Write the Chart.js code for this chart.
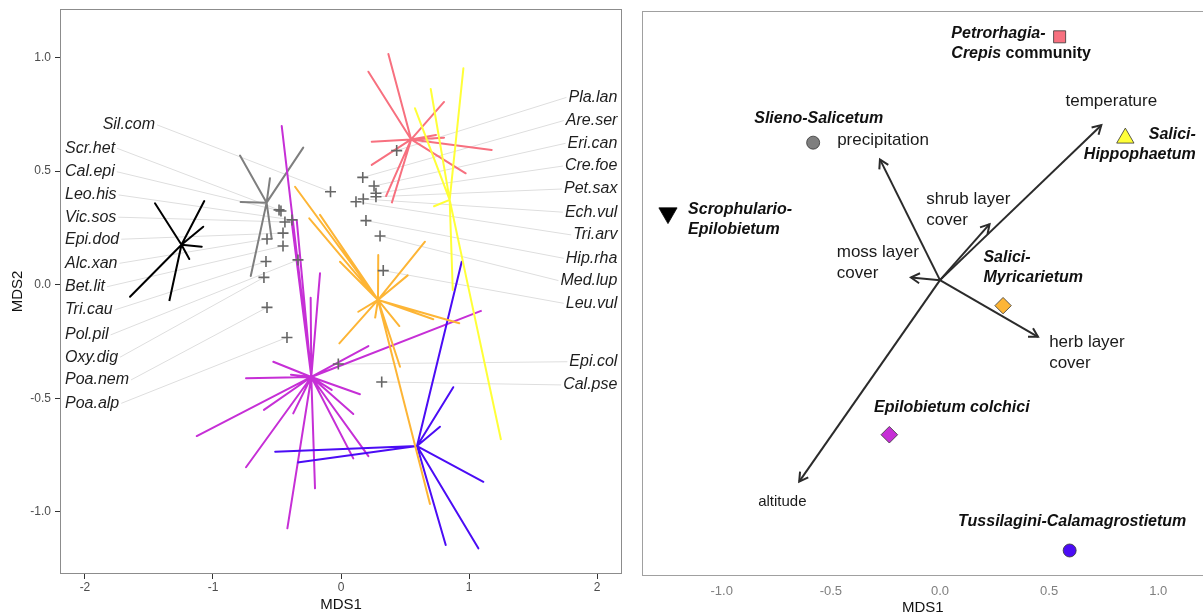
<!DOCTYPE html>
<html><head><meta charset="utf-8">
<script src="https://cdn.jsdelivr.net/npm/chart.js@4.4.1/dist/chart.umd.min.js"></script>
<style>
html,body{margin:0;padding:0;background:#fff;overflow:hidden;width:1203px;height:616px;position:relative}
#l{position:absolute;left:0;top:0;width:630px;height:616px}
#r{position:absolute;left:630px;top:0;width:585px;height:616px}
canvas{display:block}
</style></head><body>
<div id="l"><canvas id="cl" width="630" height="616"></canvas></div>
<div id="r"><canvas id="cr" width="585" height="616"></canvas></div>
<script>
const FAM = '"Liberation Sans", Arial, Helvetica, sans-serif';

// ---------- groups (centroids shared by both panels) ----------
const groupNames = ['Scrophulario-Epilobietum','Slieno-Salicetum','Petrorhagia-Crepis community','Salici-Hippophaetum','Salici-Myricarietum','Epilobietum colchici','Tussilagini-Calamagrostietum'];
const groupColors = ['#000000','#7f7f7f','#f7707f','#ffff38','#fdb536','#c62fd6','#4b0cf5'];
const centroidX = [-1.246,-0.581,0.548,0.849,0.289,-0.232,0.594];
const centroidY = [0.176,0.361,0.639,0.373,-0.067,-0.406,-0.710];

// ---------- site scores per group (left panel spiders) ----------
const sitesX_Scro = [-1.453,-1.068,-1.076,-1.088,-1.185,-1.648,-1.341];
const sitesY_Scro = [0.358,0.368,0.255,0.167,0.113,-0.053,-0.072];
const sitesX_Slie = [-0.789,-0.295,-0.555,-0.784,-0.705,-0.541];
const sitesY_Slie = [0.568,0.603,0.468,0.364,0.038,0.200];
const sitesX_Petr = [0.370,0.214,0.805,0.805,0.742,0.240,1.177,0.974,0.240,0.352,0.396];
const sitesY_Petr = [1.015,0.937,0.804,0.647,0.659,0.629,0.593,0.490,0.527,0.390,0.358];
const sitesX_Hipp = [0.956,0.701,0.578,0.727,0.873,1.250];
const sitesY_Hipp = [0.952,0.861,0.776,0.345,-0.023,-0.683];
const sitesX_Myri = [-0.359,-0.248,-0.164,-0.008,0.656,0.521,0.291,0.135,-0.013,0.456,0.924,0.721,0.461,0.695,0.266];
const sitesY_Myri = [0.431,0.292,0.307,0.101,0.189,0.041,0.131,-0.119,-0.258,-0.182,-0.170,-0.152,-0.361,-0.965,-0.148];
const sitesX_Epil = [-0.463,-0.346,-0.385,-0.164,-0.237,-0.529,-0.742,-0.391,-1.127,-0.602,-0.742,-0.373,-0.419,-0.203,0.096,0.214,0.096,0.148,-0.073,0.214,1.099];
const sitesY_Epil = [0.698,0.285,0.276,0.050,-0.057,-0.339,-0.412,-0.396,-0.666,-0.551,-0.803,-0.566,-1.072,-0.896,-0.764,-0.754,-0.569,-0.482,-0.463,-0.270,-0.114];
const sitesX_Tuss = [0.943,0.877,0.773,1.112,1.073,0.818,-0.514,-0.341];
const sitesY_Tuss = [0.101,-0.451,-0.625,-0.867,-1.160,-1.145,-0.735,-0.782];

// ---------- species scores (left panel crosses) ----------
const leftSpeciesNames = ['Sil.com','Scr.het','Cal.epi','Leo.his','Vic.sos','Epi.dod','Alc.xan','Bet.lit','Tri.cau','Pol.pil','Oxy.dig','Poa.nem','Poa.alp'];
const leftSpeciesX = [-0.082,-0.484,-0.469,-0.383,-0.438,-0.453,-0.578,-0.453,-0.586,-0.336,-0.602,-0.578,-0.422];
const leftSpeciesY = [0.409,0.329,0.324,0.285,0.276,0.227,0.201,0.170,0.102,0.109,0.032,-0.100,-0.232];
const leftLabelX = [-1.862,-2.156,-2.156,-2.156,-2.156,-2.156,-2.156,-2.156,-2.156,-2.156,-2.156,-2.156,-2.156];
const leftLabelY = [0.703,0.600,0.497,0.395,0.297,0.200,0.094,-0.009,-0.111,-0.221,-0.319,-0.419,-0.522];

const rightSpeciesNames = ['Pla.lan','Are.ser','Eri.can','Cre.foe','Pet.sax','Ech.vul','Tri.arv','Hip.rha','Med.lup','Leu.vul','Epi.col','Cal.pse'];
const rightSpeciesX = [0.435,0.170,0.258,0.273,0.273,0.174,0.117,0.195,0.305,0.330,-0.021,0.318];
const rightSpeciesY = [0.590,0.472,0.434,0.402,0.387,0.377,0.365,0.282,0.214,0.062,-0.349,-0.428];
const rightLabelX = 2.159;
const rightLabelY = [0.824,0.722,0.622,0.522,0.421,0.319,0.219,0.116,0.018,-0.082,-0.339,-0.441];

// ---------- axes ----------
const leftXTicks = [-2,-1,0,1,2];
const leftXTickLabels = ['-2','-1','0','1','2'];
const leftYTicks = [-1,-0.5,0,0.5,1];
const leftYTickLabels = ['-1.0','-0.5','0.0','0.5','1.0'];
const rightXTicks = [-1,-0.5,0,0.5,1];
const rightXTickLabels = ['-1.0','-0.5','0.0','0.5','1.0'];

// ---------- environmental vectors (right panel) ----------
const envNames = [['temperature'],['precipitation'],['shrub layer','cover'],['moss layer','cover'],['herb layer','cover'],['altitude']];
const envX = [0.739,-0.275,0.227,-0.133,0.449,-0.645];
const envY = [0.407,0.317,0.147,0.007,-0.149,-0.529];
const envLabelX = [0.575,-0.471,-0.063,-0.473,0.500,-0.833];
const envLabelY = [0.470,0.367,0.213,0.074,-0.162,-0.582];

// ---------- group labels (right panel) ----------
const groupLabelLines = [['Scrophulario-','Epilobietum'],['Slieno-Salicetum'],['Petrorhagia-','Crepis community'],['Salici-','Hippophaetum'],['Salici-','Myricarietum'],['Epilobietum colchici'],['Tussilagini-Calamagrostietum']];
const groupLabelX = [-1.154,-0.851,0.052,1.172,0.199,-0.302,0.083];
const groupLabelY = [0.184,0.423,0.648,0.381,0.058,-0.335,-0.635];
const groupLabelAlign = ['left','left','left','right','left','left','left'];

const sitesAll = [[sitesX_Scro,sitesY_Scro],[sitesX_Slie,sitesY_Slie],[sitesX_Petr,sitesY_Petr],[sitesX_Hipp,sitesY_Hipp],[sitesX_Myri,sitesY_Myri],[sitesX_Epil,sitesY_Epil],[sitesX_Tuss,sitesY_Tuss]];
const spiderOrder = [10,9,8,4,5,7,6];

function spider(cx, cy, xs, ys){
  const d=[];
  xs.forEach((v,i)=>{ d.push({x:cx,y:cy}); d.push({x:v,y:ys[i]}); });
  return d;
}

Chart.defaults.font.family = FAM;
Chart.defaults.animation = false;

const leftDatasets = groupNames.map((g,i)=>({
  label:g, data: spider(centroidX[i], centroidY[i], sitesAll[i][0], sitesAll[i][1]),
  showLine:true, borderColor:groupColors[i], borderWidth:2, pointRadius:0, pointHoverRadius:0,
  borderJoinStyle:'round', borderCapStyle:'butt', tension:0, fill:false, order:spiderOrder[i]
}));
leftDatasets.push({
  label:'species',
  data: leftSpeciesX.map((v,i)=>({x:v,y:leftSpeciesY[i]})).concat(rightSpeciesX.map((v,i)=>({x:v,y:rightSpeciesY[i]}))),
  pointStyle:'cross', pointRadius:5.5, pointBorderColor:'#666666', pointBorderWidth:1.6, showLine:false, order:1
});

function boxPlugin(id, color){
  return {id, afterDraw(chart){
    const a = chart.chartArea, ctx = chart.ctx;
    ctx.save(); ctx.strokeStyle=color; ctx.lineWidth=1;
    ctx.strokeRect(Math.round(a.left)+0.5, Math.round(a.top)+0.5, Math.round(a.right-a.left)-1, Math.round(a.bottom-a.top)-1);
    ctx.restore();
  }};
}

const leftDeco = {
  id:'leftDeco',
  beforeDatasetsDraw(chart){
    const {ctx, scales:{x,y}} = chart;
    ctx.save();
    ctx.font = 'italic 16px ' + FAM;
    ctx.strokeStyle = '#dedede'; ctx.lineWidth = 1;
    leftSpeciesNames.forEach((n,i)=>{
      const lx = x.getPixelForValue(leftLabelX[i]) + ctx.measureText(n).width + 2;
      const ly = y.getPixelForValue(leftLabelY[i]);
      ctx.beginPath(); ctx.moveTo(lx,ly);
      ctx.lineTo(x.getPixelForValue(leftSpeciesX[i]), y.getPixelForValue(leftSpeciesY[i])); ctx.stroke();
    });
    rightSpeciesNames.forEach((n,i)=>{
      const lx = x.getPixelForValue(rightLabelX) - ctx.measureText(n).width - 2;
      const ly = y.getPixelForValue(rightLabelY[i]);
      ctx.beginPath(); ctx.moveTo(lx,ly);
      ctx.lineTo(x.getPixelForValue(rightSpeciesX[i]), y.getPixelForValue(rightSpeciesY[i])); ctx.stroke();
    });
    ctx.restore();
  },
  afterDatasetsDraw(chart){
    const {ctx, scales:{x,y}, chartArea:a} = chart;
    ctx.save();
    ctx.font = 'italic 16px ' + FAM;
    ctx.fillStyle = '#1e1e1e'; ctx.textBaseline='middle';
    ctx.textAlign='left';
    leftSpeciesNames.forEach((n,i)=>ctx.fillText(n, x.getPixelForValue(leftLabelX[i]), y.getPixelForValue(leftLabelY[i])));
    ctx.textAlign='right';
    rightSpeciesNames.forEach((n,i)=>ctx.fillText(n, x.getPixelForValue(rightLabelX), y.getPixelForValue(rightLabelY[i])));
    // axis titles
    ctx.font = '15px ' + FAM; ctx.fillStyle='#111'; ctx.textAlign='center';
    ctx.fillText('MDS1', (a.left+a.right)/2, 605);
    ctx.translate(18, (a.top+a.bottom)/2); ctx.rotate(-Math.PI/2);
    ctx.fillText('MDS2', 0, 0);
    ctx.restore();
  }
};

new Chart(document.getElementById('cl'), {
  type:'scatter',
  data:{datasets:leftDatasets},
  options:{
    responsive:false, devicePixelRatio:1, animation:false,
    layout:{padding:{top:9,right:8,left:0,bottom:0}},
    plugins:{legend:{display:false}, tooltip:{enabled:false}},
    scales:{
      x:{type:'linear', min:-2.195, max:2.195,
        afterBuildTicks:s=>{s.ticks = leftXTicks.map(v=>({value:v}));},
        afterFit:s=>{s.height=42; s.paddingLeft=0; s.paddingRight=0;},
        ticks:{callback:(v,i)=>leftXTickLabels[i], color:'#4d4d4d', font:{size:12}, padding:1, maxRotation:0, autoSkip:false},
        grid:{display:true, drawOnChartArea:false, drawTicks:true, tickLength:5, tickColor:'#333', color:'#333'},
        border:{display:false}, title:{display:false}},
      y:{type:'linear', min:-1.2728, max:1.2129,
        afterBuildTicks:s=>{s.ticks = leftYTicks.map(v=>({value:v}));},
        afterFit:s=>{s.width=60; s.paddingTop=0; s.paddingBottom=0;},
        ticks:{callback:(v,i)=>leftYTickLabels[i], color:'#4d4d4d', font:{size:12}, padding:4, autoSkip:false},
        grid:{display:true, drawOnChartArea:false, drawTicks:true, tickLength:5, tickColor:'#333', color:'#333'},
        border:{display:false}, title:{display:false}}
    }
  },
  plugins:[leftDeco, boxPlugin('lbox','#8c8c8c')]
});

// ---------- right panel ----------
const markerStyles = [
  {pointStyle:'triangle', rotation:180, r:10.5, border:'#000'},
  {pointStyle:'circle', rotation:0, r:6.5, border:'#333'},
  {pointStyle:'rect', rotation:0, r:8.5, border:'#333'},
  {pointStyle:'triangle', rotation:0, r:10, border:'#333'},
  {pointStyle:'rectRot', rotation:0, r:8.2, border:'#333'},
  {pointStyle:'rectRot', rotation:0, r:8.3, border:'#333'},
  {pointStyle:'circle', rotation:0, r:6.5, border:'#333'}
];
const rightDatasets = [];
envNames.forEach((n,i)=>rightDatasets.push({
  label:n.join(' '), data:[{x:0,y:0},{x:envX[i],y:envY[i]}], showLine:true,
  borderColor:'#2b2b2b', borderWidth:2, pointRadius:0, pointHoverRadius:0, order:5
}));
groupNames.forEach((g,i)=>rightDatasets.push({
  label:g, data:[{x:centroidX[i], y:centroidY[i]}], showLine:false,
  pointStyle:markerStyles[i].pointStyle, rotation:markerStyles[i].rotation,
  pointRadius:markerStyles[i].r, pointHoverRadius:markerStyles[i].r,
  pointBackgroundColor:groupColors[i], pointBorderColor:markerStyles[i].border, pointBorderWidth:0.8, order:1
}));

const rightDeco = {
  id:'rightDeco',
  afterDatasetsDraw(chart){
    const {ctx, scales:{x,y}, chartArea:a} = chart;
    ctx.save();
    // arrow heads
    ctx.strokeStyle='#2b2b2b'; ctx.lineWidth=2; ctx.lineCap='butt'; ctx.lineJoin='miter';
    const x0=x.getPixelForValue(0), y0=y.getPixelForValue(0);
    envX.forEach((v,i)=>{
      const x1=x.getPixelForValue(v), y1=y.getPixelForValue(envY[i]);
      const ang=Math.atan2(y1-y0,x1-x0), L=10, A=Math.PI/6;
      ctx.beginPath();
      ctx.moveTo(x1-L*Math.cos(ang-A), y1-L*Math.sin(ang-A));
      ctx.lineTo(x1,y1);
      ctx.lineTo(x1-L*Math.cos(ang+A), y1-L*Math.sin(ang+A));
      ctx.stroke();
    });
    // env labels
    ctx.fillStyle='#1a1a1a'; ctx.textBaseline='middle'; ctx.textAlign='left';
    envNames.forEach((lines,i)=>{
      ctx.font = (lines[0]==='altitude' ? '15px ' : '17px ') + FAM;
      const lx=x.getPixelForValue(envLabelX[i]), ly=y.getPixelForValue(envLabelY[i]);
      lines.forEach((t,k)=>ctx.fillText(t, lx, ly+k*21));
    });
    // group labels
    ctx.fillStyle='#111';
    groupLabelLines.forEach((lines,i)=>{
      const lx=x.getPixelForValue(groupLabelX[i]), ly=y.getPixelForValue(groupLabelY[i]);
      lines.forEach((t,k)=>{
        const yy=ly+k*20;
        ctx.textAlign=groupLabelAlign[i];
        if (t.endsWith(' community')){
          const genus=t.slice(0, t.length-10);
          ctx.textAlign='left';
          ctx.font='italic bold 16px '+FAM;
          ctx.fillText(genus, lx, yy);
          const w=ctx.measureText(genus).width;
          ctx.font='bold 16px '+FAM;
          ctx.fillText(' community', lx+w, yy);
        } else {
          ctx.font='italic bold 16px '+FAM;
          ctx.fillText(t, lx, yy);
        }
      });
    });
    // axis title
    ctx.font='15px '+FAM; ctx.fillStyle='#111'; ctx.textAlign='center';
    ctx.fillText('MDS1', (a.left+a.right)/2, 608);
    ctx.restore();
  }
};

new Chart(document.getElementById('cr'), {
  type:'scatter',
  data:{datasets:rightDatasets},
  options:{
    responsive:false, devicePixelRatio:1, animation:false,
    layout:{padding:{top:11,right:0,left:12,bottom:0}},
    plugins:{legend:{display:false}, tooltip:{enabled:false}},
    scales:{
      x:{type:'linear', min:-1.365, max:1.208,
        afterBuildTicks:s=>{s.ticks = rightXTicks.map(v=>({value:v}));},
        afterFit:s=>{s.height=40;},
        ticks:{callback:(v,i)=>rightXTickLabels[i], color:'#7f7f7f', font:{size:13}, padding:8, maxRotation:0, autoSkip:false},
        grid:{display:false, drawTicks:false},
        border:{display:false}},
      y:{type:'linear', min:-0.777, max:0.706, display:false}
    }
  },
  plugins:[rightDeco, boxPlugin('rbox','#a0a0a0')]
});
</script>
</body></html>
